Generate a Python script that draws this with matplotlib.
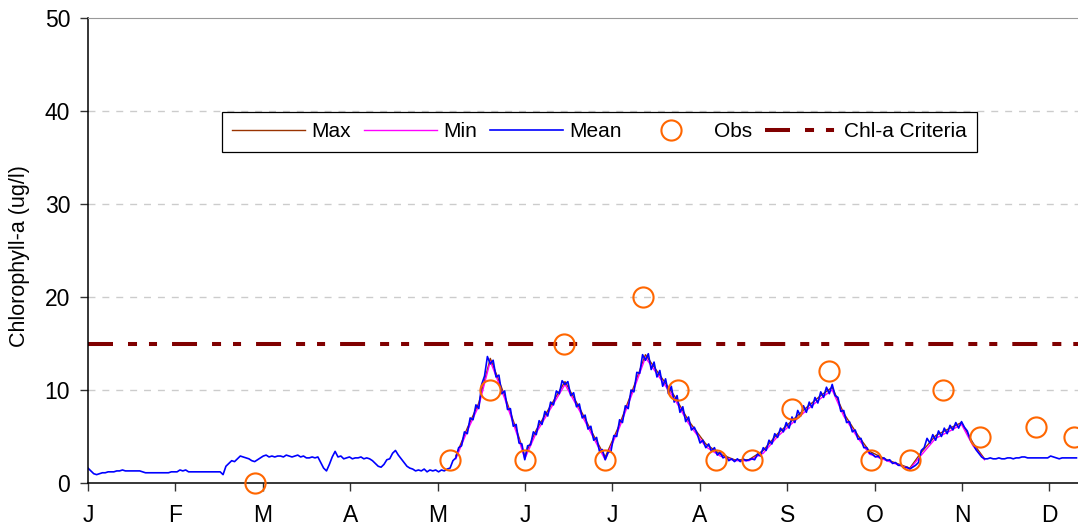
import numpy as np
import matplotlib
matplotlib.use('Agg')
import matplotlib.pyplot as plt

plt.rcParams['font.family'] = ['Liberation Sans', 'DejaVu Sans']
plt.rcParams['lines.scale_dashes'] = False

# month labels on the x axis (equal spacing over the year)
months = ['J', 'F', 'M', 'A', 'M', 'J', 'J', 'A', 'S', 'O', 'N', 'D']

mean_jan = [1.6, 1.3, 1.0, 0.9, 1.0, 1.1, 1.1, 1.2, 1.2, 1.2, 1.3, 1.3, 1.4, 1.3, 1.3, 1.3,
            1.3, 1.3, 1.3, 1.2, 1.1, 1.1, 1.1, 1.1, 1.1, 1.1, 1.1, 1.1, 1.1, 1.2, 1.2]
mean_feb = [1.2, 1.4, 1.3, 1.4, 1.2, 1.2, 1.2, 1.2, 1.2, 1.2, 1.2, 1.2, 1.2, 1.2, 1.2, 1.2,
            0.9, 1.8, 2.1, 2.4, 2.3, 2.6, 2.9, 2.8, 2.7, 2.6, 2.4, 2.3]
mean_mar = [2.5, 2.7, 2.9, 3.0, 2.8, 2.9, 2.8, 2.9, 2.9, 2.8, 3.0, 2.9, 2.8, 2.9, 3.0, 2.8,
            2.9, 2.7, 2.7, 2.8, 2.7, 2.8, 2.2, 1.6, 1.3, 2.0, 2.8, 3.4, 2.8, 2.9, 2.6]
mean_apr = [2.7, 2.8, 2.6, 2.7, 2.7, 2.8, 2.6, 2.7, 2.6, 2.4, 2.1, 1.8, 1.7, 2.0, 2.5, 2.6,
            3.2, 3.5, 3.0, 2.6, 2.2, 1.8, 1.6, 1.5, 1.3, 1.4, 1.3, 1.5, 1.2, 1.4]
mean_may = [1.3, 1.4, 1.2, 1.4, 1.3, 1.5, 1.6, 2.4, 2.7, 3.8, 4.0, 5.5, 5.3, 7.0, 6.8, 8.4,
            8.0, 10.6, 11.5, 13.6, 12.8, 13.2, 11.4, 11.6, 9.6, 9.9, 7.9, 8.0, 6.1, 6.3, 4.3]
mean_jun = [4.2, 2.5, 4.0, 4.1, 5.5, 5.2, 6.7, 6.3, 7.7, 7.2, 8.7, 8.4, 9.9, 9.6, 11.0, 10.6,
            10.9, 9.4, 9.7, 8.2, 8.5, 7.0, 7.3, 5.8, 6.1, 4.6, 4.9, 3.4, 3.6, 2.5]
mean_jul = [3.3, 3.4, 5.1, 5.0, 6.8, 6.5, 8.3, 8.0, 10.0, 9.8, 11.9, 11.8, 13.8, 13.2, 13.9, 12.2,
            13.0, 11.4, 12.1, 10.4, 11.2, 9.6, 10.4, 8.7, 9.4, 7.6, 8.2, 6.6, 7.1, 5.7, 6.0]
mean_aug = [5.3, 4.3, 4.6, 3.8, 4.2, 3.4, 3.8, 3.0, 3.3, 2.7, 2.9, 2.4, 2.6, 2.3, 2.6, 2.3,
            2.6, 2.4, 2.5, 2.6, 2.5, 3.1, 2.9, 3.8, 3.5, 4.6, 4.2, 5.3, 4.9, 5.9, 5.5]
mean_sep = [6.5, 5.9, 7.1, 6.5, 7.8, 7.2, 8.3, 7.6, 8.7, 8.1, 9.2, 8.6, 9.8, 9.2, 10.3, 9.6,
            10.6, 9.4, 9.2, 7.7, 7.8, 6.5, 6.6, 5.5, 5.7, 4.7, 4.8, 3.8, 3.8, 3.2]
mean_oct = [3.1, 2.8, 2.9, 2.6, 2.7, 2.4, 2.5, 2.1, 2.2, 1.9, 1.9, 1.6, 1.7, 1.5, 1.7, 1.9,
            2.2, 3.5, 3.8, 4.8, 4.3, 5.2, 4.6, 5.6, 5.0, 5.9, 5.3, 6.2, 5.7, 6.5, 5.9]
mean_nov = [6.6, 6.0, 5.6, 4.7, 4.2, 3.6, 3.2, 2.8, 2.6, 2.6, 2.7, 2.6, 2.6, 2.7, 2.6, 2.6,
            2.7, 2.7, 2.6, 2.7, 2.7, 2.8, 2.8, 2.7, 2.7, 2.7, 2.7, 2.7, 2.7, 2.7]
mean_dec = [2.7, 2.9, 2.8, 2.7, 2.6, 2.7, 2.7, 2.7, 2.7, 2.7, 2.7]

mean_vals = (mean_jan + mean_feb + mean_mar + mean_apr + mean_may + mean_jun +
             mean_jul + mean_aug + mean_sep + mean_oct + mean_nov + mean_dec)
mean_days = np.arange(len(mean_vals))

# max / min envelope, only where it shows apart from the mean (mid-May to early Nov)
ext_days = [128, 132, 136, 140, 145, 150, 152, 156, 161, 166, 171, 176, 180, 185, 190, 194,
            199, 204, 209, 215, 220, 225, 230, 235, 240, 245, 250, 255, 259, 263, 268, 272,
            278, 286, 290, 295, 300, 304, 308, 312]
max_vals = [2.9, 5.9, 8.6, 13.4, 9.4, 4.9, 2.9, 5.7, 8.3, 10.9, 8.1, 5.1, 2.8, 6.3, 10.4,
            13.8, 11.6, 9.4, 6.7, 4.2, 3.1, 2.5, 2.5, 3.5, 5.3, 6.7, 8.1, 9.4, 10.3, 7.5,
            5.1, 3.4, 2.5, 1.6, 3.3, 5.1, 5.9, 6.5, 4.3, 2.6]
min_vals = [2.6, 5.6, 8.3, 13.1, 9.1, 4.6, 2.6, 5.4, 8.0, 10.6, 7.8, 4.8, 2.5, 6.0, 10.1,
            13.5, 11.3, 9.1, 6.4, 3.9, 2.9, 2.4, 2.4, 3.2, 5.0, 6.4, 7.8, 9.1, 10.0, 7.2,
            4.8, 3.1, 2.4, 1.5, 3.0, 4.8, 5.6, 6.3, 4.0, 2.5]

# observations
obs_days = [58, 126, 140, 152, 165.5, 180, 193, 205.5, 218.5, 231, 245, 258, 272.5, 286,
            297.5, 310.5, 330, 343]
obs_vals = [0, 2.5, 10, 2.5, 15, 2.5, 20, 10, 2.5, 2.5, 8, 12, 2.5, 2.5, 10, 5, 6, 5]

# chlorophyll-a criterion
crit_days = [0, 365]
crit_vals = [15, 15]

fig = plt.figure(figsize=(10.78, 5.29), dpi=100)
ax = fig.add_axes([88 / 1078, 46 / 529, 1 - 88 / 1078, 465 / 529])

ax.plot(ext_days, max_vals, color='#993300', lw=1.0, label='Max')
ax.plot(ext_days, min_vals, color='#ff00ff', lw=1.0, label='Min')
ax.plot(mean_days, mean_vals, color='#0000ff', lw=1.2, label='Mean')
ax.plot(obs_days, obs_vals, ls='none', marker='o', ms=14.5, mfc='none', mec='#ff6600',
        mew=1.5, label='Obs', clip_on=False, zorder=5)
ax.plot(crit_days, crit_vals, color='#800000', lw=2.9, dash_capstyle='butt',
        ls=(0, (18, 10.8, 6.5, 8.6, 5.8, 10.8)), label='Chl-a Criteria')

day_per_month = 365 / 12
ax.set_xlim(0, (1078 - 88) / (87.4 / day_per_month))
ax.set_ylim(0, 50)
ax.set_xticks([i * day_per_month for i in range(12)])
ax.set_xticklabels(months)
ax.set_yticks(range(0, 51, 10))
ax.tick_params(axis='both', labelsize=16.5, length=5.8, width=1, direction='out', color='#333333')
ax.tick_params(axis='x', pad=9)
ax.tick_params(axis='y', pad=7)

for y in [10, 20, 30, 40]:
    ax.axhline(y, color='#cccccc', lw=1, ls=(0, (5, 5)), zorder=0)

ax.spines['right'].set_visible(False)
ax.spines['top'].set_color('#999999')
ax.spines['left'].set_linewidth(1.1)
ax.spines['bottom'].set_linewidth(1.1)

fig.text(20 / 1078, 1 - 256 / 529, 'Chlorophyll-a (ug/l)', rotation=90, ha='center',
         va='center', fontsize=15.5)

leg = ax.legend(loc='upper left', bbox_to_anchor=(222 / 1078, 1 - 112 / 529),
                bbox_transform=fig.transFigure, ncol=5, fontsize=15, frameon=True,
                fancybox=False, framealpha=1, edgecolor='black', borderaxespad=0,
                handlelength=3.5, handletextpad=0.3, columnspacing=0.62, borderpad=0.5)
leg.get_frame().set_linewidth(0.9)

fig.savefig('out.png', dpi=100)
